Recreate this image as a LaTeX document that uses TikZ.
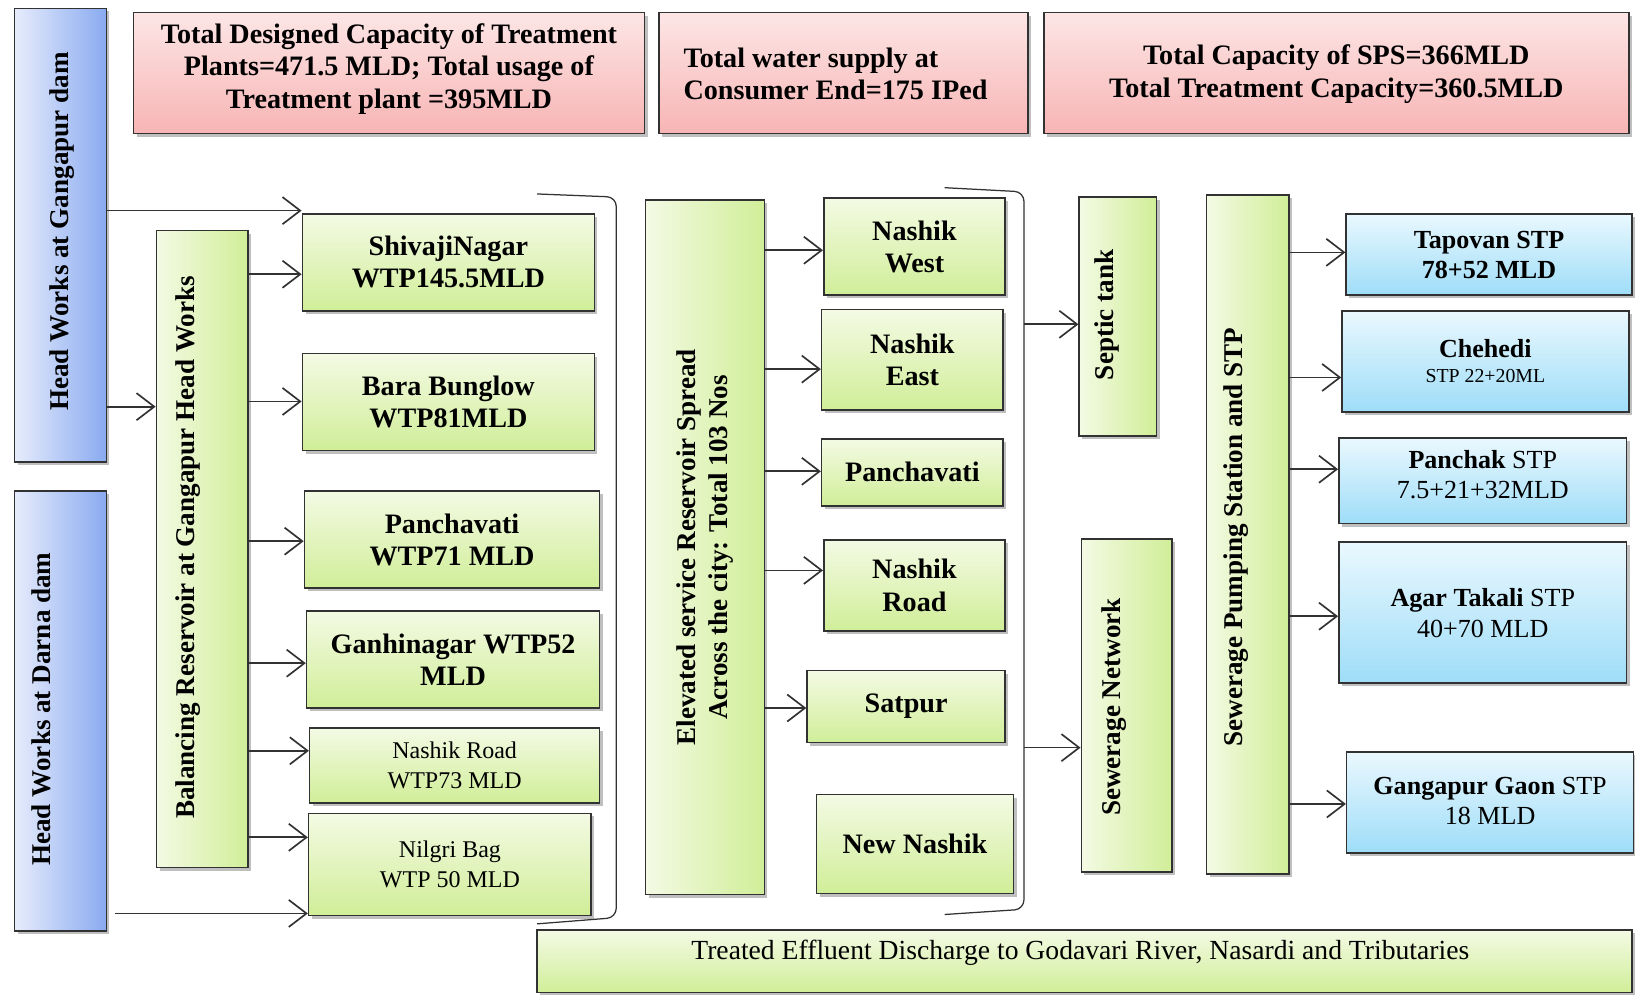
\documentclass[tikz,border=0pt]{standalone}
\usepackage{fontspec}
\setmainfont{Liberation Serif}
\usetikzlibrary{arrows.meta,shadows}
\definecolor{gL}{RGB}{244,250,228}
\definecolor{gD}{RGB}{208,238,152}
\definecolor{bL}{RGB}{230,236,252}
\definecolor{bD}{RGB}{138,170,240}
\definecolor{rL}{RGB}{253,230,230}
\definecolor{rD}{RGB}{247,180,180}
\definecolor{cL}{RGB}{234,248,254}
\definecolor{cD}{RGB}{158,221,248}
\definecolor{edge}{RGB}{50,50,50}
\begin{document}
\begin{tikzpicture}[x=1pt,y=-1pt,
  box/.style={draw=edge,line width=1.5pt,inner sep=0pt,
    drop shadow={shadow xshift=3pt,shadow yshift=-3pt,opacity=0.25,fill=black}},
  hbox/.style={box,top color=gL,bottom color=gD},
  vbox/.style={box,left color=gL,right color=gD},
  bluebox/.style={box,left color=bL,right color=bD},
  redbox/.style={box,top color=rL,bottom color=rD},
  stpbox/.style={box,top color=cL,bottom color=cD},
  bt/.style={font=\fontsize{27}{31}\selectfont\bfseries,align=center,text=black},
  nt/.style={font=\fontsize{23}{29}\selectfont,align=center,text=black},
  st/.style={font=\fontsize{25}{29}\selectfont,align=center,text=black},
  vt/.style={font=\fontsize{26}{31}\selectfont\bfseries,align=center,text=black,rotate=90,inner sep=0pt},
  arr/.style={draw=edge,line width=1.6pt,-{Straight Barb[length=17pt,width=26pt,line width=1.6pt]}},
  brk/.style={draw=edge,line width=1.2pt,rounded corners=9pt},
]
\fill[white] (0,0) rectangle (1568,954);
\path[use as bounding box] (0,0) rectangle (1568,954);

% head works
\node[bluebox,minimum width=88,minimum height=435] (HG) at (58,225.5) {};
\node[vt] (HGt) at (60,222) {Head Works at Gangapur dam};
\node[bluebox,minimum width=88,minimum height=422] (HD) at (58,682) {};
\node[vt] (HDt) at (40,680) {Head Works at Darna dam};

% top summary boxes
\node[redbox,minimum width=490,minimum height=116] (R1) at (373,70) {};
\node[bt] (R1t) at (373,66) {Total Designed Capacity of Treatment\\Plants=471.5 MLD; Total usage of\\Treatment plant =395MLD};
\node[redbox,minimum width=354,minimum height=116] (R2) at (809,70) {};
\node[bt,align=left,anchor=west] (R2t) at (652,71) {Total water supply at\\Consumer End=175 IPed};
\node[redbox,minimum width=561,minimum height=116] (R3) at (1281.5,70) {};
\node[bt] (R3t) at (1281.5,71) {Total Capacity of SPS=366MLD\\Total Treatment Capacity=360.5MLD};

% balancing reservoir
\node[vbox,minimum width=88,minimum height=611] (BR) at (194,526.5) {};
\node[vt] (BRt) at (180,525) {Balancing Reservoir at Gangapur Head Works};

% WTPs
\node[hbox,bt,minimum width=280,minimum height=93] (W1) at (430,251.5) {ShivajiNagar\\WTP145.5MLD};
\node[hbox,bt,minimum width=280,minimum height=93] (W2) at (430,385.5) {Bara Bunglow\\WTP81MLD};
\node[hbox,bt,minimum width=283,minimum height=93] (W3) at (433.5,517.5) {Panchavati\\WTP71 MLD};
\node[hbox,bt,minimum width=281,minimum height=93] (W4) at (434.5,632.5) {Ganhinagar WTP52\\MLD};
\node[hbox,nt,minimum width=278,minimum height=72] (W5) at (436,734) {Nashik Road\\WTP73 MLD};
\node[hbox,nt,minimum width=271,minimum height=98] (W6) at (431.5,829) {Nilgri Bag\\WTP 50 MLD};

% bracket 1
\coordinate (b1a) at (515,186);
\coordinate (b1b) at (591,189);
\coordinate (b1c) at (591,880);
\coordinate (b1d) at (515,886);
\draw[brk] (b1a) -- (b1b) -- (b1c) -- (b1d);

% elevated reservoir
\node[vbox,minimum width=114,minimum height=666] (ER) at (676,525) {};
\node[vt] (ERt) at (676,525) {Elevated service Reservoir Spread\\Across the city: Total 103 Nos};

% zones
\node[hbox,bt,minimum width=174,minimum height=93] (Z1) at (877,236.5) {Nashik\\West};
\node[hbox,bt,minimum width=174,minimum height=96] (Z2) at (875,345) {Nashik\\East};
\node[hbox,bt,minimum width=174,minimum height=64] (Z3) at (875,453) {Panchavati};
\node[hbox,bt,minimum width=174,minimum height=87] (Z4) at (877,561.5) {Nashik\\Road};
\node[hbox,bt,minimum width=190,minimum height=69] (Z5) at (869,677.5) {Satpur};
\node[hbox,bt,minimum width=189,minimum height=95] (Z6) at (877.5,809.5) {New Nashik};

% bracket 2
\coordinate (b2a) at (906,180);
\coordinate (b2b) at (982,184);
\coordinate (b2c) at (982,872);
\coordinate (b2d) at (906,877);
\draw[brk] (b2a) -- (b2b) -- (b2c) -- (b2d);

% septic / sewerage
\node[vbox,minimum width=74,minimum height=229] (ST) at (1072,303.5) {};
\node[vt] (STt) at (1062,302) {Septic tank};
\node[vbox,minimum width=87,minimum height=319] (SN) at (1080.5,676.5) {};
\node[vt] (SNt) at (1068,678) {Sewerage Network};
\node[vbox,minimum width=79,minimum height=651] (SP) at (1196.5,512.5) {};
\node[vt] (SPt) at (1185,515) {Sewerage Pumping Station and STP};

% STPs
\node[stpbox,minimum width=274,minimum height=78] (S1) at (1428,244) {};
\node[st,font=\fontsize{25}{29}\selectfont\bfseries] (S1t) at (1428,244.5) {Tapovan STP\\78+52 MLD};
\node[stpbox,minimum width=275,minimum height=97] (S2) at (1424.5,346.5) {};
\node[st] (S2t) at (1424.5,346) {\textbf{Chehedi}\\[-5pt]{\fontsize{19}{22}\selectfont STP 22+20ML}};
\node[stpbox,minimum width=276,minimum height=82] (S3) at (1422,461) {};
\node[st] (S3t) at (1422,455) {\textbf{Panchak} STP\\7.5+21+32MLD};
\node[stpbox,minimum width=276,minimum height=135] (S4) at (1422,587.5) {};
\node[st] (S4t) at (1422,588) {\textbf{Agar Takali} STP\\40+70 MLD};
\node[stpbox,minimum width=275,minimum height=97] (S5) at (1429,769.5) {};
\node[st] (S5t) at (1429,768) {\textbf{Gangapur Gaon} STP\\18 MLD};

% bottom discharge box
\node[hbox,minimum width=1050,minimum height=60] (BT) at (1040,922) {};
\node[nt,font=\fontsize{26.5}{30}\selectfont] (BTt) at (1036,914) {Treated Effluent Discharge to Godavari River, Nasardi and Tributaries};

% arrows
\draw[arr] (HG.east |- 0,202) -- (W1.west |- 0,202);
\draw[arr] (HG.east |- 0,390) -- (BR.west |- 0,390);
\foreach \t/\yy in {W1/263,W2/385,W3/519,W4/636,W5/720,W6/803}
  \draw[arr] (BR.east |- 0,\yy) -- (\t.west |- 0,\yy);
\coordinate (HDo) at (110,876);
\draw[arr] (HDo) -- (W6.west |- HDo);
\foreach \t/\yy in {Z1/240,Z2/354,Z3/452,Z4/547,Z5/679}
  \draw[arr] (ER.east |- 0,\yy) -- (\t.west |- 0,\yy);
\draw[arr] (b2b |- 0,311) -- (ST.west |- 0,311);
\draw[arr] (b2b |- 0,717) -- (SN.west |- 0,717);
\foreach \t/\yy in {S1/242,S2/362,S3/450,S4/591,S5/771}
  \draw[arr] (SP.east |- 0,\yy) -- (\t.west |- 0,\yy);
\end{tikzpicture}
\end{document}
